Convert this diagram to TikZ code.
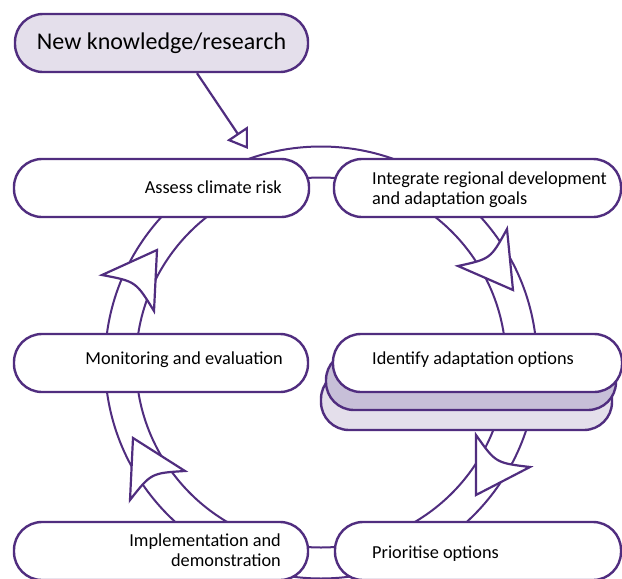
\documentclass[tikz,border=0pt]{standalone}
\usepackage{fontspec}
\setmainfont{Carlito}
\usetikzlibrary{arrows.meta}
\definecolor{pur}{HTML}{502D7F}
\definecolor{lav}{HTML}{E4DFEB}
\definecolor{lavmid}{HTML}{C7BFD8}
\begin{document}
\begin{tikzpicture}[x=1pt,y=-1pt,
  box/.style={draw=pur, line width=2.4pt, fill=white, rounded corners=28pt, inner sep=0pt, minimum height=58pt},
  lbl/.style={font=\fontsize{18.3}{19.5}\selectfont, inner sep=0pt, text=black},
  ring/.style={draw=pur, line width=2pt},
  head/.style={draw=pur, line width=2.2pt, fill=white, line join=miter},
  link/.style={draw=pur, line width=2.2pt, -{Triangle[open, length=19pt, width=25pt]}},
]
\useasboundingbox (0,0) rectangle (622,579);
\fill[white] (0,0) rectangle (622,579);

% cycle ring
\draw[ring] (321,362.5) circle[radius=216];
\draw[ring] (321,362.5) circle[radius=185];

% arrowheads on the ring
\draw[head] (513,290) -- (507,229) .. controls (490.6,258.9) .. (458,266) -- cycle;
\draw[head] (476,495) -- (476,435) .. controls (495.7,462.9) .. (530,467) -- cycle;
\draw[head] (133,438) -- (185,471) .. controls (151.1,473.1) .. (130,500) -- cycle;
\draw[head] (157,250) -- (102,275) .. controls (135.8,281.4) .. (154,311) -- cycle;

% boxes
\node[box, fill=lav, minimum width=293pt, font=\fontsize{24}{28}\selectfont] (nk) at (161.5,43) {New knowledge/research};
\node[box, minimum width=295pt] (assess) at (161.5,188) {};
\node[box, minimum width=287pt] (integ) at (477.5,188) {};
\node[box, minimum width=294pt] (monit) at (161,363) {};
\node[box, fill=lav, minimum width=291pt, minimum height=59pt] (stackb) at (466.5,400.5) {};
\node[box, fill=lavmid, minimum width=290pt] (stacka) at (471,381) {};
\node[box, minimum width=289pt] (ident) at (477.5,363) {};
\node[box, minimum width=294pt] (impl) at (161,551) {};
\node[box, minimum width=286pt] (prio) at (478,551) {};

% labels
\node[lbl, anchor=base east] (assesst) at (282,193) {Assess climate risk};
\node[lbl, anchor=base west, align=left] (integt) at (372,204) {Integrate regional development\\and adaptation goals};
\node[lbl, anchor=base east] (monitt) at (283,364) {Monitoring and evaluation};
\node[lbl, anchor=base west] (identt) at (372,364) {Identify adaptation options};
\node[lbl, anchor=base east, align=right] (implt) at (281,566) {Implementation and\\demonstration};
\node[lbl, anchor=base west] (priot) at (372,558) {Prioritise options};

% input arrow
\coordinate (ringin) at (248,149);
\draw[link] ([xshift=35.5pt]nk.south) -- (ringin);
\end{tikzpicture}
\end{document}
